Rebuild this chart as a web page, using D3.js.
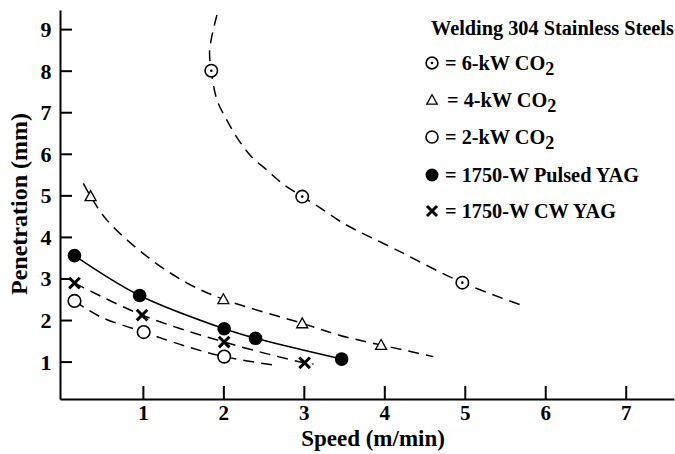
<!DOCTYPE html>
<html><head><meta charset="utf-8">
<script src="https://cdn.jsdelivr.net/npm/d3@7"></script>
<style>
html,body{margin:0;padding:0;background:#fff;}
svg{display:block;}
text{font-family:"Liberation Serif","Times New Roman",serif;font-weight:bold;fill:#000;}
</style></head>
<body>
<script>
// ---- data ----
const xTicks = [1, 2, 3, 4, 5, 6, 7];
const yTicks = [1, 2, 3, 4, 5, 6, 7, 8, 9];

const kw6Speed = [1.85, 2.98, 4.97];
const kw6Pen   = [8.0, 4.97, 2.9];
const kw6CurveX = [1.92, 1.83, 1.85, 1.92, 2.04, 2.19, 2.35, 2.54, 2.73, 2.98, 3.18, 3.49, 4.15, 4.97, 5.76];
const kw6CurveY = [9.34, 8.5, 8.0, 7.3, 6.82, 6.33, 5.93, 5.61, 5.29, 4.97, 4.73, 4.33, 3.69, 2.9, 2.32];

const kw4Speed = [0.35, 2.0, 2.98, 3.96];
const kw4Pen   = [4.98, 2.5, 1.92, 1.40];
const kw4CurveX = [0.26, 0.35, 0.55, 1.05, 1.55, 2.0, 2.98, 3.45, 3.96, 4.61];
const kw4CurveY = [5.29, 4.98, 4.41, 3.53, 2.89, 2.5, 1.92, 1.63, 1.40, 1.12];

const kw2Speed = [0.15, 1.01, 2.01];
const kw2Pen   = [2.46, 1.71, 1.12];
const kw2CurveX = [0.15, 0.47, 1.01, 1.55, 2.01, 2.68];
const kw2CurveY = [2.46, 2.08, 1.71, 1.36, 1.12, 0.90];

const pulsedSpeed = [0.15, 0.96, 2.01, 2.40, 3.47];
const pulsedPen   = [3.55, 2.59, 1.79, 1.56, 1.06];

const cwSpeed = [0.15, 0.99, 2.01, 3.01];
const cwPen   = [2.89, 2.12, 1.47, 0.97];
const cwCurveX = [0.15, 0.99, 2.01, 3.01, 3.12];
const cwCurveY = [2.89, 2.12, 1.47, 0.97, 0.94];

const legendTitle = "Welding 304 Stainless Steels";
const legendLabels = ["= 6-kW CO", "= 4-kW CO", "= 2-kW CO", "= 1750-W Pulsed YAG", "= 1750-W CW YAG"];
const legendSub = ["2", "2", "2", "", ""];
const legendKinds = ["dotcircle", "triangle", "circle", "filled", "cross"];

// ---- drawing ----
const W = 675, H = 454;
const svg = d3.select("body").append("svg").attr("width", W).attr("height", H);

const x = d3.scaleLinear().domain([-0.03, 7.6]).range([60, 674]);
const y = d3.scaleLinear().domain([0.1, 9.46]).range([399, 10]);

const xAxis = svg.append("g").attr("transform", `translate(0,${y(0.1)})`)
  .call(d3.axisBottom(x).tickValues(xTicks).tickSize(-13).tickSizeOuter(0).tickPadding(0).tickFormat(d3.format("d")));
const yAxis = svg.append("g").attr("transform", `translate(${x(-0.03)},0)`)
  .call(d3.axisLeft(y).tickValues(yTicks).tickSize(-12).tickSizeOuter(0).tickPadding(8).tickFormat(d3.format("d")));

[xAxis, yAxis].forEach(g => {
  g.selectAll("path.domain").attr("stroke", "#000").attr("stroke-width", 2);
  g.selectAll(".tick line").attr("stroke", "#000").attr("stroke-width", 2);
  g.selectAll(".tick text").attr("font-family", "Liberation Serif").attr("font-weight", "bold")
    .attr("font-size", 22).attr("fill", "#000");
});
xAxis.selectAll(".tick text").attr("y", 21).attr("dy", 0).attr("font-size", 21);
yAxis.selectAll(".tick text").attr("x", -8.5).attr("dy", "0.34em");

svg.append("text").attr("x", 373).attr("y", 446).attr("text-anchor", "middle")
  .attr("font-size", 23).text("Speed (m/min)");
svg.append("text").attr("transform", "translate(27,204) rotate(-90)").attr("text-anchor", "middle")
  .attr("font-size", 24).text("Penetration (mm)");

const line = d3.line().x(d => x(d[0])).y(d => y(d[1])).curve(d3.curveCatmullRom.alpha(0.5));
const zip = (a, b) => a.map((v, i) => [v, b[i]]);

const dash = "11,7";
const curves = [
  {pts: zip(kw6CurveX, kw6CurveY), dash},
  {pts: zip(kw4CurveX, kw4CurveY), dash},
  {pts: zip(kw2CurveX, kw2CurveY), dash},
  {pts: zip(cwCurveX, cwCurveY), dash},
  {pts: zip(pulsedSpeed, pulsedPen), dash: null}
];
svg.append("g").selectAll("path").data(curves).join("path")
  .attr("d", d => line(d.pts)).attr("fill", "none").attr("stroke", "#000")
  .attr("stroke-width", 1.5).attr("stroke-dasharray", d => d.dash);

function marker(g, kind, cx, cy, s) {
  s = s || 1;
  if (kind === "dotcircle") {
    g.append("circle").attr("cx", cx).attr("cy", cy).attr("r", 6.2*s).attr("fill", "#fff").attr("stroke", "#000").attr("stroke-width", 1.6);
    g.append("circle").attr("cx", cx).attr("cy", cy).attr("r", 1.3).attr("fill", "#000");
  } else if (kind === "circle") {
    g.append("circle").attr("cx", cx).attr("cy", cy).attr("r", 6.3*s).attr("fill", "#fff").attr("stroke", "#000").attr("stroke-width", 1.6);
  } else if (kind === "filled") {
    g.append("circle").attr("cx", cx).attr("cy", cy).attr("r", 6.8*s).attr("fill", "#000");
  } else if (kind === "triangle") {
    const a = 5.5*s;
    g.append("path").attr("d", `M${cx},${cy-a}L${cx+a},${cy+a*0.8}L${cx-a},${cy+a*0.8}Z`)
      .attr("fill", "#fff").attr("stroke", "#000").attr("stroke-width", 1.3);
  } else if (kind === "cross") {
    const a = 5.3*s;
    g.append("path").attr("d", `M${cx-a},${cy-a}L${cx+a},${cy+a}M${cx+a},${cy-a}L${cx-a},${cy+a}`)
      .attr("stroke", "#000").attr("stroke-width", 3);
  }
}

const mk = svg.append("g");
const series = [
  ["dotcircle", kw6Speed, kw6Pen],
  ["triangle", kw4Speed, kw4Pen],
  ["circle", kw2Speed, kw2Pen],
  ["filled", pulsedSpeed, pulsedPen],
  ["cross", cwSpeed, cwPen]
];
series.forEach(([k, xs, ys]) => xs.forEach((v, i) => marker(mk, k, x(v), y(ys[i]))));

// legend
const lg = svg.append("g");
lg.append("text").attr("x", 431).attr("y", 34.5).attr("font-size", 20.3).text(legendTitle);
const rowY = [63, 100, 137, 175, 211];
legendLabels.forEach((lab, i) => {
  marker(lg, legendKinds[i], 432, rowY[i], 0.95);
  const t = lg.append("text").attr("x", legendKinds[i] === "triangle" ? 447 : 445)
    .attr("y", rowY[i] + 6.5).attr("font-size", 20.3).text(lab);
  if (legendSub[i]) t.append("tspan").attr("dy", 5).attr("font-size", 18).text(legendSub[i]);
});
</script>
</body></html>
